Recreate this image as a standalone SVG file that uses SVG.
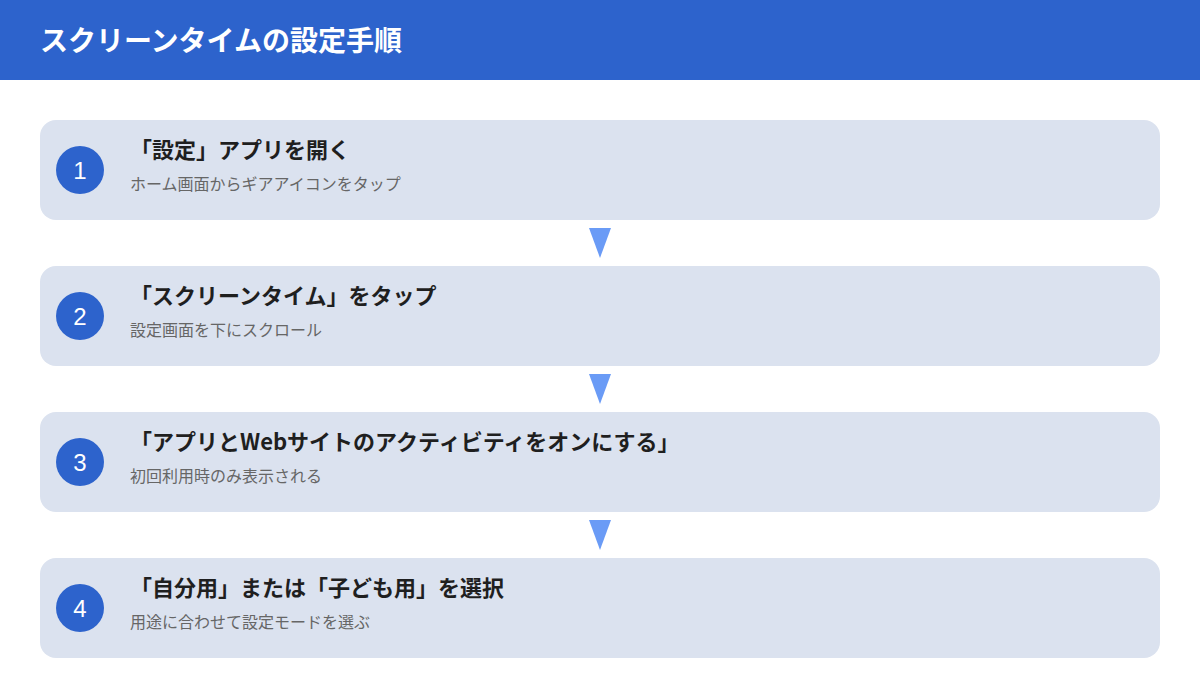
<svg xmlns="http://www.w3.org/2000/svg" width="1200" height="698" viewBox="0 0 1200 698">
<style>
.card{fill:#dbe2ef}
.num{fill:#2d63cc}
.numt{font-family:"Liberation Sans",Arial,sans-serif;font-size:24px;fill:#fff;text-anchor:middle}
.t{font-family:"Noto Sans CJK JP","Noto Sans",sans-serif;font-size:22px;font-weight:bold;fill:#1f1f1f}
.s{font-family:"Noto Sans CJK JP","Noto Sans",sans-serif;font-size:16px;fill:#666}
.arr{fill:#6a9bf6}
</style>
<rect x="0" y="0" width="1200" height="80" fill="#2d63cc"/>
<text x="40" y="51" font-family="Noto Sans CJK JP, Noto Sans, sans-serif" font-size="28" font-weight="bold" fill="#fff">スクリーンタイムの設定手順</text>
<g id="connectors">
<polygon class="arr" points="589,228 611,228 600,258"/>
<polygon class="arr" points="589,374 611,374 600,404"/>
<polygon class="arr" points="589,520 611,520 600,550"/>
</g>
<g id="step1">
<rect class="card" x="40" y="120" width="1120" height="100" rx="16"/>
<circle class="num" cx="80" cy="170" r="24"/>
<text class="numt" x="80" y="179">1</text>
<text class="t" x="130" y="158">「設定」アプリを開く</text>
<text class="s" x="130" y="190">ホーム画面からギアアイコンをタップ</text>
</g>
<g id="step2">
<rect class="card" x="40" y="266" width="1120" height="100" rx="16"/>
<circle class="num" cx="80" cy="316" r="24"/>
<text class="numt" x="80" y="325">2</text>
<text class="t" x="130" y="304">「スクリーンタイム」をタップ</text>
<text class="s" x="130" y="336">設定画面を下にスクロール</text>
</g>
<g id="step3">
<rect class="card" x="40" y="412" width="1120" height="100" rx="16"/>
<circle class="num" cx="80" cy="462" r="24"/>
<text class="numt" x="80" y="471">3</text>
<text class="t" x="130" y="450">「アプリとWebサイトのアクティビティをオンにする」</text>
<text class="s" x="130" y="482">初回利用時のみ表示される</text>
</g>
<g id="step4">
<rect class="card" x="40" y="558" width="1120" height="100" rx="16"/>
<circle class="num" cx="80" cy="608" r="24"/>
<text class="numt" x="80" y="617">4</text>
<text class="t" x="130" y="596">「自分用」または「子ども用」を選択</text>
<text class="s" x="130" y="628">用途に合わせて設定モードを選ぶ</text>
</g>
</svg>
